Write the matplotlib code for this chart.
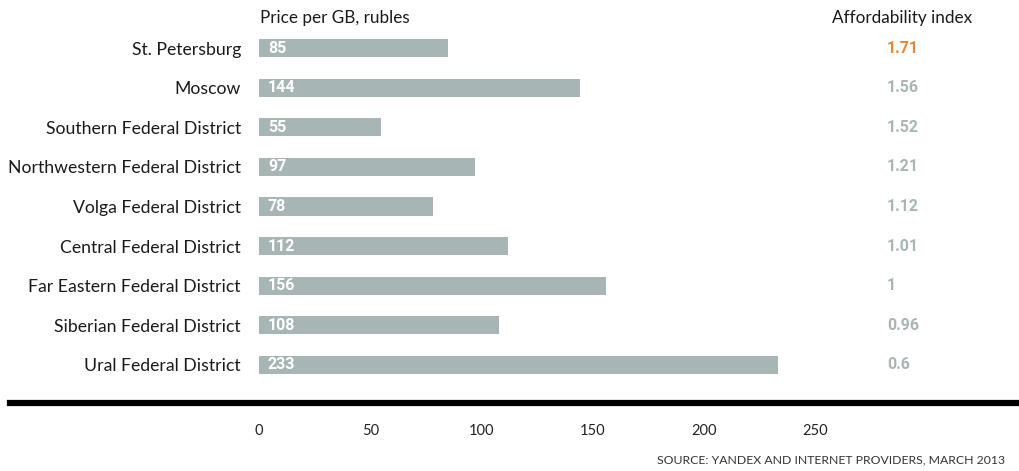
import matplotlib.pyplot as plt
import matplotlib.transforms as mtransforms
from matplotlib.lines import Line2D

# data
regions = ['St. Petersburg', 'Moscow', 'Southern Federal District',
           'Northwestern Federal District', 'Volga Federal District',
           'Central Federal District', 'Far Eastern Federal District',
           'Siberian Federal District', 'Ural Federal District']
price_per_gb = [85, 144, 55, 97, 78, 112, 156, 108, 233]
affordability = ['1.71', '1.56', '1.52', '1.21', '1.12', '1.01', '1', '0.96', '0.6']
x_ticks = [0, 50, 100, 150, 200, 250]

BAR_COLOR = '#a7b6b5'
INDEX_GRAY = '#a9b5b5'
INDEX_ORANGE = '#ec8533'

plt.rcParams['font.family'] = ['Lato', 'DejaVu Sans']

fig = plt.figure(figsize=(10.2, 4.71), dpi=100)
ax = fig.add_axes([259 / 1020, 0.183, 670 / 1020, 0.757])

y = list(range(len(regions)))
ax.barh(y, price_per_gb, height=0.46, color=BAR_COLOR)
ax.set_xlim(0, 301)
ax.set_ylim(len(regions) - 0.5, -0.5)

for spine in ax.spines.values():
    spine.set_visible(False)

ax.set_yticks(y)
ax.set_yticklabels(regions, fontsize=12.7, color='#1a1a1a')
ax.tick_params(axis='y', length=0, pad=13)

ax.set_xticks(x_ticks)
ax.set_xticklabels([str(t) for t in x_ticks], fontsize=10.5, color='#222222')
ax.tick_params(axis='x', length=0, pad=28)

# values inside bars
for yi, v in zip(y, price_per_gb):
    ax.text(4, yi, str(v), color='white', fontsize=11.5, fontweight='bold',
            family='Roboto', va='center', ha='left')

# affordability index column
trans = mtransforms.blended_transform_factory(fig.transFigure, ax.transData)
for yi, a in zip(y, affordability):
    c = INDEX_ORANGE if yi == 0 else INDEX_GRAY
    ax.text(887 / 1020, yi, a, transform=trans, color=c, fontsize=11.5,
            fontweight='bold', family='Roboto', va='center', ha='left')

# headers
fig.text(260 / 1020, 1 - 18 / 471, 'Price per GB, rubles', fontsize=12.3,
         color='#1a1a1a', va='center', ha='left')
fig.text(832 / 1020, 1 - 18 / 471, 'Affordability index', fontsize=12.3,
         color='#1a1a1a', va='center', ha='left')

# thick baseline
fig.add_artist(Line2D([10 / 1020, 1016 / 1020], [1 - 403 / 471, 1 - 403 / 471],
                      transform=fig.transFigure, color='black', linewidth=4.5))

fig.text(1005 / 1020, 1 - 460 / 471, 'SOURCE: YANDEX AND INTERNET PROVIDERS, MARCH 2013',
         fontsize=8.8, color='#333333', va='center', ha='right')

fig.savefig('out.png', dpi=100)
